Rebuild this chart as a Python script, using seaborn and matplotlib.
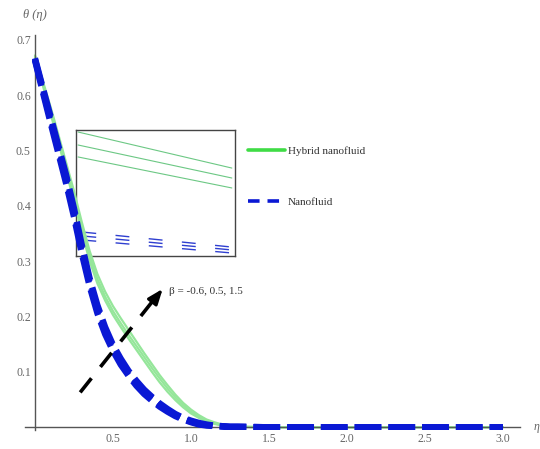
import numpy as np
import pandas as pd
import matplotlib
matplotlib.use("Agg")
import matplotlib.pyplot as plt
from matplotlib.ticker import MultipleLocator, FixedLocator
import seaborn as sns

# ---------------- data ----------------
eta = [0.0, 0.05, 0.1, 0.15, 0.2, 0.25, 0.3, 0.35, 0.4, 0.45, 0.5, 0.55, 0.6,
       0.65, 0.7, 0.75, 0.8, 0.85, 0.9, 0.95, 1.0, 1.05, 1.1, 1.15, 1.2, 1.25,
       1.3, 1.5, 2.0, 2.5, 3.0]

# Hybrid nanofluid, beta = -0.6, 0.5, 1.5
hyb_b1 = [.668, .618, .567, .515, .462, .409, .353, .301, .260, .229, .203, .181, .160,
          .140, .120, .100, .081, .064, .049, .036, .025, .017, .010, .006, .003, .001,
          0, 0, 0, 0, 0]
hyb_b2 = [.670, .622, .573, .522, .470, .418, .362, .310, .268, .236, .210, .188, .167,
          .147, .127, .107, .088, .070, .054, .040, .028, .019, .012, .007, .004, .002,
          .001, 0, 0, 0, 0]
hyb_b3 = [.672, .626, .579, .529, .478, .427, .371, .319, .277, .245, .219, .197, .176,
          .155, .134, .114, .094, .076, .059, .044, .032, .022, .014, .009, .005, .003,
          .001, 0, 0, 0, 0]

# Nanofluid, beta = -0.6, 0.5, 1.5
nano_b1 = [.663, .606, .550, .495, .440, .380, .314, .255, .206, .168, .138, .113, .093,
           .075, .060, .048, .037, .028, .020, .014, .009, .005, .003, .002, .001, 0,
           0, 0, 0, 0, 0]
nano_b2 = [.665, .610, .556, .502, .448, .388, .322, .262, .213, .174, .143, .118, .097,
           .079, .064, .051, .040, .030, .022, .015, .010, .006, .004, .003, .002, .001,
           .001, 0, 0, 0, 0]
nano_b3 = [.667, .614, .562, .509, .456, .396, .330, .270, .221, .181, .149, .124, .102,
           .084, .068, .055, .043, .033, .024, .017, .012, .008, .005, .003, .002, .001,
           .001, 0, 0, 0, 0]

# Inset (zoomed view, relative units)
inset_x_hyb = [0.013, 0.98]
inset_hyb = [[0.984, 0.698], [0.881, 0.619], [0.786, 0.540]]
inset_x_nano = [0.04, 0.98]
inset_nano = [[0.190, 0.071], [0.159, 0.048], [0.127, 0.024]]

x_ticks = [0.5, 1.0, 1.5, 2.0, 2.5, 3.0]
y_ticks = [0.1, 0.2, 0.3, 0.4, 0.5, 0.6, 0.7]
legend_labels = ["Hybrid nanofluid", "Nanofluid"]
beta_text = "β = -0.6, 0.5, 1.5"

# ---------------- style ----------------
sns.set_style("white")
plt.rcParams["font.family"] = ["Liberation Serif", "DejaVu Serif"]

W, H = 540, 449
fig = plt.figure(figsize=(W / 100, H / 100), dpi=100)

# inset first (sits underneath the main curves)
axi = fig.add_axes([76 / W, 1 - 256 / H, 159 / W, 126 / H])
axi.set_zorder(0)
axi.patch.set_alpha(0)

ax = fig.add_axes([25 / W, 1 - 430 / H, (520 - 25) / W, (430 - 35) / H])
ax.set_zorder(1)
ax.patch.set_alpha(0)
fig.patch.set_facecolor("white")

GREEN = "#95e69a"
BLUE = "#0a18d4"
GRAY = "#555555"

rows = []
for name, arr in [("h1", hyb_b1), ("h2", hyb_b2), ("h3", hyb_b3),
                  ("n1", nano_b1), ("n2", nano_b2), ("n3", nano_b3)]:
    for e, v in zip(eta, arr):
        rows.append({"eta": e, "theta": v, "series": name})
df = pd.DataFrame(rows)

for s in ["h1", "h2", "h3"]:
    sns.lineplot(data=df[df.series == s], x="eta", y="theta", ax=ax,
                 color=GREEN, lw=1.6, estimator=None, zorder=2)
for s in ["n1", "n2", "n3"]:
    sns.lineplot(data=df[df.series == s], x="eta", y="theta", ax=ax,
                 color=BLUE, lw=4.5, linestyle=(0, (4.2, 1.2)),
                 estimator=None, zorder=3)

ax.set_xlim(-0.064, 3.11)
ax.set_ylim(-0.005, 0.709)
ax.set_xlabel("")
ax.set_ylabel("")

for sp in ["top", "right"]:
    ax.spines[sp].set_visible(False)
ax.spines["left"].set_position(("data", 0))
ax.spines["bottom"].set_position(("data", 0))
for sp in ["left", "bottom"]:
    ax.spines[sp].set_color(GRAY)
    ax.spines[sp].set_linewidth(1.0)

ax.xaxis.set_major_locator(FixedLocator(x_ticks))
ax.yaxis.set_major_locator(FixedLocator(y_ticks))
ax.xaxis.set_minor_locator(MultipleLocator(0.1))
ax.yaxis.set_minor_locator(MultipleLocator(0.02))
ax.set_xticklabels([f"{t:.1f}" for t in x_ticks])
ax.set_yticklabels([f"{t:.1f}" for t in y_ticks])
ax.tick_params(which="both", direction="in", colors=GRAY, labelcolor="#666666",
               labelsize=8.5)
ax.tick_params(which="major", length=4.5, width=0.8)
ax.tick_params(which="minor", length=2.5, width=0.7)
ax.tick_params(axis="x", pad=4)
ax.tick_params(axis="y", pad=3)
ax.grid(False)

# axis labels Mathematica-style
ax.text(0.0, 0.745, "θ (η)", fontsize=9, color="#666666", ha="center",
        va="center", style="italic", clip_on=False)
ax.text(3.2, 0.0, "η", fontsize=8.5, color="#666666", ha="left", va="center",
        style="italic", clip_on=False)

# arrow
ax.plot([0.29, 0.78], [0.063, 0.237], color="black", lw=2.6,
        linestyle=(0, (5, 4)), zorder=4)
ax.annotate("", xy=(0.83, 0.254), xytext=(0.74, 0.222),
            arrowprops=dict(arrowstyle="-|>,head_length=0.9,head_width=0.35",
                            color="black", lw=2.2), zorder=5)
ax.text(0.86, 0.245, beta_text, fontsize=8, color="#333333", ha="left",
        va="center")

# legend
h_g, = ax.plot([], [], color="#3fdc45", lw=2.6)
h_b, = ax.plot([], [], color=BLUE, lw=2.6, linestyle=(0, (3.2, 2.2)))
leg = ax.legend([h_g, h_b], legend_labels, loc="upper left",
                bbox_to_anchor=(248 / W, 1 - 146 / H), bbox_transform=fig.transFigure,
                frameon=False, fontsize=8, handlelength=3.3, handletextpad=0.3,
                labelspacing=3.7, borderpad=0, borderaxespad=0)
for t in leg.get_texts():
    t.set_color("#333333")

# inset content
for ys in inset_hyb:
    sns.lineplot(x=inset_x_hyb, y=ys, ax=axi, color="#6cc884", lw=0.8,
                 estimator=None)
for ys in inset_nano:
    sns.lineplot(x=inset_x_nano, y=ys, ax=axi, color="#2f3fd0", lw=1.0,
                 linestyle=(0, (10, 14)), estimator=None)
axi.set_xlim(0, 1)
axi.set_ylim(0, 1)
axi.set_xticks([])
axi.set_yticks([])
axi.set_xlabel("")
axi.set_ylabel("")
for sp in axi.spines.values():
    sp.set_visible(True)
    sp.set_color("#444444")
    sp.set_linewidth(1.0)

fig.savefig("out.png", dpi=100, facecolor="white")
